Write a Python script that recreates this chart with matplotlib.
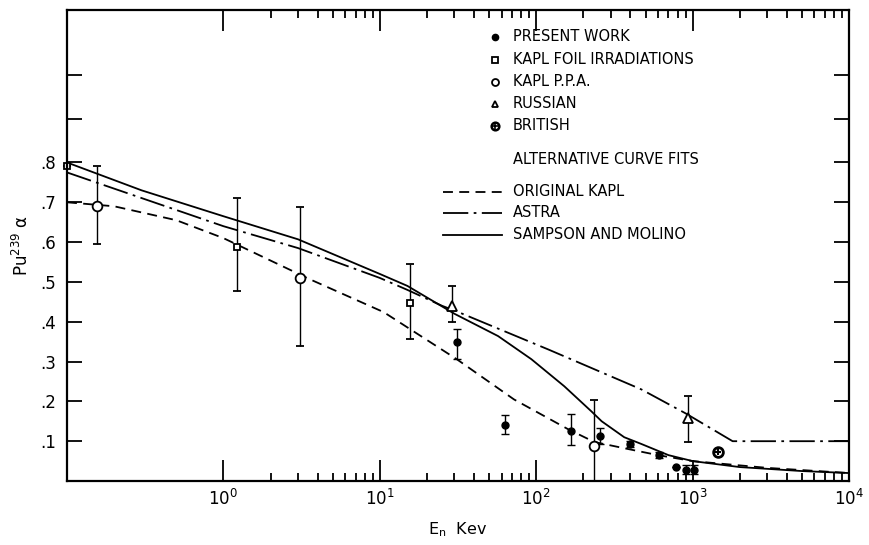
import numpy as np
import matplotlib
matplotlib.use("Agg")
import matplotlib.pyplot as plt
from matplotlib.lines import Line2D
from matplotlib.ticker import FixedLocator, FixedFormatter, NullFormatter

plt.rcParams['font.family'] = ['DejaVu Sans']
plt.rcParams['mathtext.fontset'] = 'dejavusans'

# Measured points, energy in keV
present_x = [31, 63, 167, 257, 400, 605, 780, 900, 1025]
present_y = [0.348, 0.140, 0.125, 0.113, 0.093, 0.065, 0.035, 0.028, 0.027]
present_lo = [0.306, 0.118, 0.090, 0.093, 0.085, 0.057, 0.035, 0.018, 0.017]
present_hi = [0.383, 0.165, 0.168, 0.133, 0.101, 0.073, 0.035, 0.040, 0.040]

foil_x = [0.1, 1.23, 15.6]
foil_y = [0.79, 0.587, 0.446]
foil_lo = [0.79, 0.476, 0.356]
foil_hi = [0.79, 0.710, 0.544]

ppa_x = [0.156, 3.1, 235]
ppa_y = [0.690, 0.510, 0.088]
ppa_lo = [0.594, 0.340, 0.0]
ppa_hi = [0.790, 0.687, 0.203]

russian_x = [29, 930]
russian_y = [0.440, 0.158]
russian_lo = [0.400, 0.098]
russian_hi = [0.490, 0.213]

british_x = [1450]
british_y = [0.073]

# Curve fits
kapl_x = [0.1, 0.2, 0.5, 1, 3.6, 10.6, 31, 72, 160, 235, 390, 600, 1000, 3000, 10000]
kapl_y = [0.70, 0.69, 0.655, 0.61, 0.506, 0.424, 0.306, 0.205, 0.13, 0.098, 0.08, 0.065, 0.05, 0.033, 0.02]

astra_x = [0.1, 1, 3, 10, 15, 25, 31, 120, 470, 900, 1800, 10000]
astra_y = [0.775, 0.64, 0.585, 0.51, 0.48, 0.44, 0.426, 0.33, 0.23, 0.17, 0.10, 0.10]

sampson_x = [0.1, 0.3, 1, 3, 10, 15, 30, 57, 93, 151, 225, 262, 365, 470, 700, 1000, 2000, 5000, 10000]
sampson_y = [0.80, 0.73, 0.665, 0.607, 0.52, 0.49, 0.42, 0.364, 0.306, 0.238, 0.175, 0.15, 0.11, 0.093, 0.065, 0.05, 0.035, 0.025, 0.02]

ytick_vals = [0.1, 0.2, 0.3, 0.4, 0.5, 0.6, 0.7, 0.8, 0.91, 1.02]
ytick_labels = ['.1', '.2', '.3', '.4', '.5', '.6', '.7', '.8', '', '']
xtick_vals = [1, 10, 100, 1000, 10000]
xtick_labels = ['$10^0$', '$10^1$', '$10^2$', '$10^3$', '$10^4$']
# minor ticks only from 10^0 upward (none in first decade on the original)
xminor_vals = [m * d for d in [1, 10, 100, 1000] for m in range(2, 10)]

fig = plt.figure(figsize=(8.7, 5.45), dpi=100)
ax = fig.add_axes([0.077, 0.1174, 0.899, 0.8643])

lw = 1.3
dash = (0, (5.5, 3.5))
dashdot = (0, (14, 3, 1.5, 3))
ax.plot(kapl_x, kapl_y, color='black', lw=lw, linestyle=dash)
ax.plot(astra_x, astra_y, color='black', lw=lw, linestyle=dashdot)
ax.plot(sampson_x, sampson_y, color='black', lw=lw)

def errs(y, lo, hi):
    y = np.array(y)
    return [y - np.array(lo), np.array(hi) - y]

ebkw = dict(ecolor='black', elinewidth=1.0, capsize=3, capthick=1.0, linestyle='none', clip_on=False)
ax.errorbar(present_x, present_y, yerr=errs(present_y, present_lo, present_hi),
            marker='o', ms=5, mfc='black', mec='black', **ebkw)
ax.errorbar(foil_x, foil_y, yerr=errs(foil_y, foil_lo, foil_hi),
            marker='s', ms=5, mfc='white', mec='black', mew=1.3, **ebkw)
ax.errorbar(ppa_x, ppa_y, yerr=errs(ppa_y, ppa_lo, ppa_hi),
            marker='o', ms=7, mfc='white', mec='black', mew=1.3, **ebkw)
ax.errorbar(russian_x, russian_y, yerr=errs(russian_y, russian_lo, russian_hi),
            marker='^', ms=7, mfc='white', mec='black', mew=1.3, **ebkw)
ax.plot(british_x, british_y, marker='o', ms=7, mfc='white', mec='black', mew=2, linestyle='none')
ax.plot(british_x, british_y, marker='+', ms=5, mec='black', mew=1.5, linestyle='none')

ax.set_xscale('log')
ax.set_xlim(0.1, 10000)
ax.set_ylim(0, 1.183)

ax.xaxis.set_major_locator(FixedLocator(xtick_vals))
ax.xaxis.set_major_formatter(FixedFormatter(xtick_labels))
ax.xaxis.set_minor_locator(FixedLocator(xminor_vals))
ax.xaxis.set_minor_formatter(NullFormatter())
ax.yaxis.set_major_locator(FixedLocator(ytick_vals))
ax.yaxis.set_major_formatter(FixedFormatter(ytick_labels))

ax.tick_params(axis='both', which='both', direction='in', top=True, right=True, width=1.3)
ax.tick_params(axis='x', which='major', length=15, labelsize=12, pad=6)
ax.tick_params(axis='x', which='minor', length=6)
ax.tick_params(axis='y', which='major', length=11, labelsize=12, pad=8)
for s in ax.spines.values():
    s.set_linewidth(1.6)

ax.set_xlabel('E$_\\mathregular{n}$  Kev', fontsize=11.5, labelpad=8)
ax.set_ylabel('Pu$^{239}$ α', fontsize=12, labelpad=6)

# legend drawn by hand in axes coordinates
tr = ax.transAxes
def ax_x(px):
    return (px - 67) / (849 - 67)
def ax_y(py):
    return (481 - py) / (481 - 10)

mk_x = ax_x(495)
tx = ax_x(513)
rows = [('PRESENT WORK', dict(marker='o', ms=4.5, mfc='black', mec='black'), 37),
        ('KAPL FOIL IRRADIATIONS', dict(marker='s', ms=4, mfc='white', mec='black', mew=1.3), 60),
        ('KAPL P.P.A.', dict(marker='o', ms=5, mfc='white', mec='black', mew=1.3), 82),
        ('RUSSIAN', dict(marker='^', ms=5, mfc='white', mec='black', mew=1.3), 104),
        ('BRITISH', dict(marker='o', ms=5.5, mfc='white', mec='black', mew=1.8), 126)]
for label, style, py in rows:
    ax.add_line(Line2D([mk_x], [ax_y(py)], transform=tr, linestyle='none', **style))
    ax.text(tx, ax_y(py), label, transform=tr, fontsize=10.5, va='center', ha='left')
ax.add_line(Line2D([mk_x], [ax_y(126)], transform=tr, linestyle='none', marker='+', ms=4, mec='black', mew=1.2))

ax.text(tx, ax_y(160), 'ALTERNATIVE CURVE FITS', transform=tr, fontsize=10.5, va='center', ha='left')
line_rows = [('ORIGINAL KAPL', dash, 192),
             ('ASTRA', dashdot, 213),
             ('SAMPSON AND MOLINO', '-', 235)]
for label, ls, py in line_rows:
    ax.add_line(Line2D([ax_x(443), ax_x(502)], [ax_y(py), ax_y(py)], transform=tr,
                       color='black', lw=lw, linestyle=ls))
    ax.text(tx, ax_y(py), label, transform=tr, fontsize=10.5, va='center', ha='left')

fig.savefig('out.png', dpi=100)
